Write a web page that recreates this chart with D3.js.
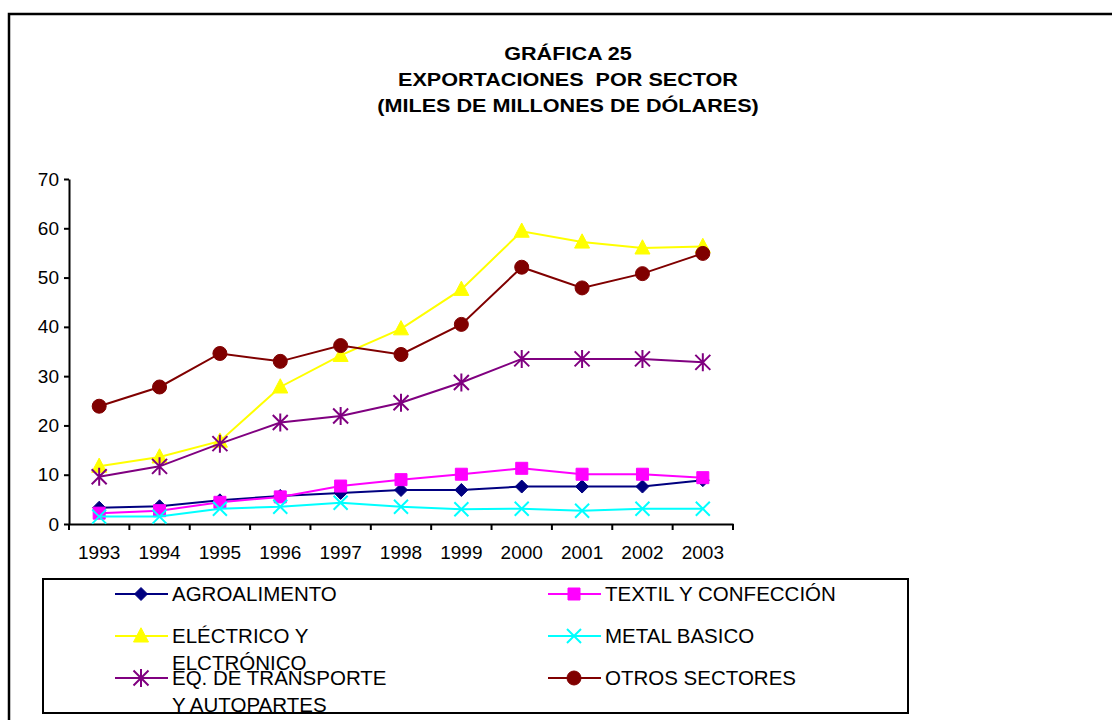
<!DOCTYPE html>
<html>
<head>
<meta charset="utf-8">
<script src="https://cdn.jsdelivr.net/npm/d3@7/dist/d3.min.js"></script>
<style>
  html, body { margin: 0; padding: 0; background: #fff; }
  svg { display: block; font-family: "Liberation Sans", Arial, Helvetica, sans-serif; }
  .title text { white-space: pre; }
</style>
</head>
<body>
<svg id="chart" width="1112" height="720"></svg>
<script>
// Exportaciones por sector, miles de millones de dólares
const years = ["1993","1994","1995","1996","1997","1998","1999","2000","2001","2002","2003"];
const yTicks = [0, 10, 20, 30, 40, 50, 60, 70];

const agroalimento = [3.3, 3.6, 4.8, 5.7, 6.3, 6.9, 6.9, 7.6, 7.6, 7.6, 8.9];
const textil       = [2.2, 2.7, 4.4, 5.5, 7.7, 9.0, 10.1, 11.3, 10.1, 10.1, 9.4];
const electrico    = [11.7, 13.6, 16.8, 27.8, 34.2, 39.6, 47.6, 59.4, 57.2, 56.0, 56.3];
const metal        = [1.5, 1.5, 3.1, 3.5, 4.3, 3.5, 3.0, 3.1, 2.7, 3.1, 3.1];
const transporte   = [9.6, 11.7, 16.3, 20.6, 21.9, 24.6, 28.7, 33.5, 33.5, 33.5, 32.8];
const otros        = [23.9, 27.8, 34.6, 33.0, 36.2, 34.4, 40.5, 52.1, 47.9, 50.8, 54.9];

const titleLines = ["GRÁFICA 25", "EXPORTACIONES  POR SECTOR", "(MILES DE MILLONES DE DÓLARES)"];

const series = [
  { name: ["AGROALIMENTO"], values: agroalimento, color: "#000080", marker: "diamond" },
  { name: ["TEXTIL Y CONFECCIÓN"], values: textil, color: "#FF00FF", marker: "square" },
  { name: ["ELÉCTRICO Y", "ELCTRÓNICO"], values: electrico, color: "#FFFF00", marker: "triangle" },
  { name: ["METAL BASICO"], values: metal, color: "#00FFFF", marker: "x" },
  { name: ["EQ. DE TRANSPORTE", "Y AUTOPARTES"], values: transporte, color: "#800080", marker: "star" },
  { name: ["OTROS SECTORES"], values: otros, color: "#800000", marker: "circle" }
];

const svg = d3.select("#chart");

// outer frame of the chart area
svg.append("rect")
  .attr("x", 9).attr("y", 14)
  .attr("width", 1300).attr("height", 900)
  .attr("fill", "none").attr("stroke", "#000").attr("stroke-width", 2.5);

// title: bold, set slightly wide
const title = svg.append("g").attr("class", "title")
  .attr("font-weight", "bold").attr("font-size", 18).attr("text-anchor", "middle");
const titleY = [60, 86, 112];
titleLines.forEach((t, i) => {
  title.append("text")
    .attr("transform", `translate(568,${titleY[i]}) scale(1.2,1)`)
    .text(t);
});

// scales
const x = d3.scaleBand().domain(years).range([69, 733]);
const y = d3.scaleLinear().domain([0, 70]).range([524, 179]);
const cx = d => x(d) + x.bandwidth() / 2;

// axes
const yAxis = d3.axisLeft(y).tickValues(yTicks).tickSize(5).tickPadding(5).tickSizeOuter(0);
const gy = svg.append("g").attr("transform", "translate(69,0)").call(yAxis);
gy.select(".domain").attr("stroke", "#000").attr("stroke-width", 2);
gy.selectAll(".tick line").attr("stroke", "#000").attr("stroke-width", 2);
gy.selectAll(".tick text").attr("font-size", 19).attr("fill", "#000")
  .attr("font-family", "'Liberation Sans', Arial, sans-serif");

const xAxis = d3.axisBottom(x).tickSize(0).tickPadding(22).tickSizeOuter(0);
const gx = svg.append("g").attr("transform", "translate(0,524)").call(xAxis);
gx.select(".domain").attr("stroke", "#000").attr("stroke-width", 2);
gx.selectAll(".tick text").attr("font-size", 19).attr("fill", "#000")
  .attr("font-family", "'Liberation Sans', Arial, sans-serif");
// category boundary ticks
const bounds = years.map(d => x(d)).concat([x(years[years.length - 1]) + x.bandwidth()]);
gx.selectAll(".bound").data(bounds).enter().append("line")
  .attr("class", "bound")
  .attr("x1", d => d).attr("x2", d => d)
  .attr("y1", 0).attr("y2", 6)
  .attr("stroke", "#000").attr("stroke-width", 2);

// marker shapes
function markerPath(type, s) {
  const h = s / 2;
  switch (type) {
    case "diamond": return `M0,${-h}L${h},0L0,${h}L${-h},0Z`;
    case "square": return `M${-h},${-h}H${h}V${h}H${-h}Z`;
    case "triangle": return `M0,${-h * 1.1}L${h},${h * 0.8}L${-h},${h * 0.8}Z`;
    case "x": return `M${-h},${-h}L${h},${h}M${-h},${h}L${h},${-h}`;
    case "star": return `M${-h},${-h}L${h},${h}M${-h},${h}L${h},${-h}M0,${-h * 1.2}V${h * 1.2}`;
    case "circle": return `M${h},0A${h},${h} 0 1,1 ${-h},0A${h},${h} 0 1,1 ${h},0Z`;
  }
}
const markerSize = { diamond: 13, square: 12, triangle: 15, x: 14, star: 15, circle: 14 };
function styleMarker(sel, s) {
  const stroked = s.marker === "x" || s.marker === "star";
  sel.attr("d", markerPath(s.marker, markerSize[s.marker]))
    .attr("fill", stroked ? "none" : s.color)
    .attr("stroke", s.color)
    .attr("stroke-width", stroked ? 2 : 1);
}

// lines and markers
const line = d3.line().x((d, i) => cx(years[i])).y(d => y(d));
const plot = svg.append("g");
series.forEach(s => {
  const g = plot.append("g");
  g.append("path").attr("d", line(s.values))
    .attr("fill", "none").attr("stroke", s.color).attr("stroke-width", 2);
  g.selectAll("path.m").data(s.values).enter().append("path")
    .attr("class", "m")
    .attr("transform", (d, i) => `translate(${cx(years[i])},${y(d)})`)
    .call(sel => styleMarker(sel, s));
});

// legend
const legend = svg.append("g");
legend.append("rect").attr("x", 43).attr("y", 579).attr("width", 865).attr("height", 134)
  .attr("fill", "#fff").attr("stroke", "#000").attr("stroke-width", 2);
const colX = [115, 548];
const rowY = [594, 636, 678];
series.forEach((s, i) => {
  const lx = colX[i % 2], ly = rowY[Math.floor(i / 2)];
  const g = legend.append("g").attr("transform", `translate(${lx},${ly})`);
  g.append("line").attr("x1", 0).attr("x2", 53).attr("y1", 0).attr("y2", 0)
    .attr("stroke", s.color).attr("stroke-width", 2);
  g.append("path").attr("transform", "translate(26,0)").call(sel => styleMarker(sel, s));
  s.name.forEach((t, k) => {
    g.append("text").attr("x", 57).attr("y", 7 + k * 27)
      .attr("font-size", 20.5).attr("fill", "#000").text(t);
  });
});
</script>
</body>
</html>
